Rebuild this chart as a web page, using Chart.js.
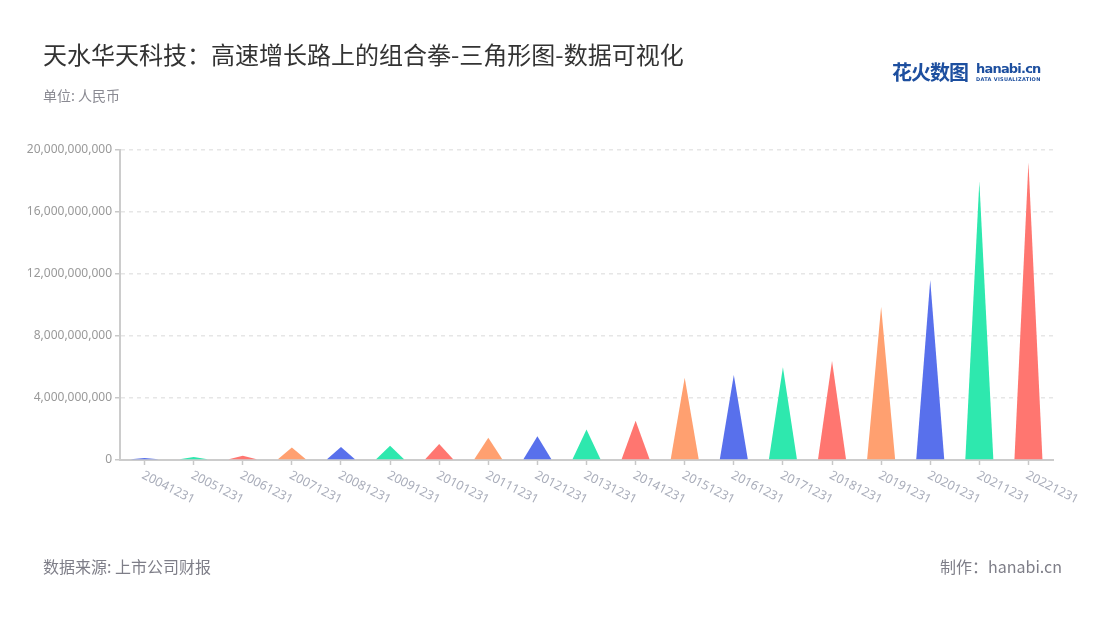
<!DOCTYPE html>
<html><head><meta charset="utf-8">
<script src="https://cdn.jsdelivr.net/npm/chart.js@4"></script>
<style>
body{margin:0;width:1100px;height:620px;background:#fff;font-family:"Noto Sans CJK SC","Noto Sans",sans-serif;position:relative;overflow:hidden}
#wrap{position:absolute;left:0;top:0;width:1100px;height:620px}
.t{position:absolute;white-space:nowrap;line-height:1}
</style></head><body>
<div id="wrap"><canvas id="c" width="1100" height="620"></canvas></div>
<div class="t" style="left:43px;top:42px;font-size:24px;color:#333">天水华天科技：高速增长路上的组合拳-三角形图-数据可视化</div>
<div class="t" style="left:43px;top:88px;font-size:14px;color:#8a8a92">单位: 人民币</div>
<div class="t" style="left:43px;top:558px;font-size:16px;color:#7e7e88">数据来源: 上市公司财报</div>
<div class="t" style="right:38px;top:558px;font-size:16px;color:#7e7e88">制作：hanabi.cn</div>
<div class="t" style="left:892px;top:62px;font-size:20px;font-weight:bold;color:#1d4f9f;letter-spacing:-1px">花火数图</div>
<div class="t" style="left:976px;top:62px;font-size:13px;font-weight:bold;color:#1d4f9f;font-family:'DejaVu Sans',sans-serif;letter-spacing:-0.8px">hanabi.cn</div>
<div class="t" style="left:976px;top:77px;font-size:5px;font-weight:bold;color:#1d4f9f;letter-spacing:0.3px;font-family:'DejaVu Sans',sans-serif">DATA VISUALIZATION</div>
<script>
const categories = ["20041231","20051231","20061231","20071231","20081231","20091231","20101231","20111231","20121231","20131231","20141231","20151231","20161231","20171231","20181231","20191231","20201231","20211231","20221231"];
const revenue = [0.13e9,0.19e9,0.28e9,0.80e9,0.84e9,0.92e9,1.03e9,1.44e9,1.53e9,1.96e9,2.54e9,5.31e9,5.48e9,5.98e9,6.39e9,9.89e9,11.61e9,17.96e9,19.19e9];
const palette = ["#5870ec","#2ee8ae","#ff7670","#ffa070"];
const barColors = categories.map((c,i)=>palette[i%4]);

const triPlugin = {
  id:'tri',
  beforeDatasetDraw(chart,args){
    const ctx = chart.ctx;
    ctx.save();
    args.meta.data.forEach(bar=>{
      const p = bar.getProps(['x','y','base','width'],true);
      ctx.beginPath();
      ctx.moveTo(p.x-p.width/2,p.base);
      ctx.lineTo(p.x,p.y);
      ctx.lineTo(p.x+p.width/2,p.base);
      ctx.closePath();
      ctx.fillStyle = bar.options.backgroundColor;
      ctx.fill();
    });
    ctx.restore();
    return false;
  }
};
const xLabelPlugin = {
  id:'xlab',
  afterDraw(chart){
    const xs = chart.scales.x, ctx = chart.ctx;
    ctx.save();
    ctx.font = '12.5px "Noto Sans", sans-serif';
    ctx.fillStyle = '#a9adba';
    ctx.textAlign = 'left';
    ctx.textBaseline = 'top';
    xs.ticks.forEach((t,i)=>{
      const x = xs.getPixelForTick(i);
      ctx.save();
      ctx.translate(x+1, xs.top+9);
      ctx.rotate(27*Math.PI/180);
      ctx.fillText(xs.getLabelForValue(t.value),0,0);
      ctx.restore();
    });
    ctx.restore();
  }
};

new Chart(document.getElementById('c'),{
  type:'bar',
  data:{labels:categories,datasets:[{data:revenue,backgroundColor:barColors,barPercentage:0.57,categoryPercentage:1}]},
  options:{
    responsive:false,animation:false,
    layout:{padding:{left:0,right:47,top:150,bottom:0}},
    plugins:{legend:{display:false},tooltip:{enabled:false}},
    scales:{
      x:{
        grid:{offset:false,drawOnChartArea:false,drawTicks:true,tickLength:5,tickColor:'#c8c8c8',tickWidth:1.5},
        border:{color:'#cccccc',width:2},
        ticks:{display:false},
        afterFit(s){s.height=160;}
      },
      y:{
        min:0,max:20e9,
        grid:{color:'#e6e6e6',lineWidth:1.5,tickLength:5,tickColor:'#c8c8c8',tickWidth:1.5,tickBorderDash:[]},
        border:{color:'#cccccc',width:2,dash:[4,4]},
        ticks:{stepSize:4e9,padding:3,color:'#999',font:{size:12,family:'"Noto Sans", sans-serif'},callback:v=>v.toLocaleString('en-US')},
        afterFit(s){s.width=120;}
      }
    }
  },
  plugins:[triPlugin,xLabelPlugin]
});
</script>
</body></html>
